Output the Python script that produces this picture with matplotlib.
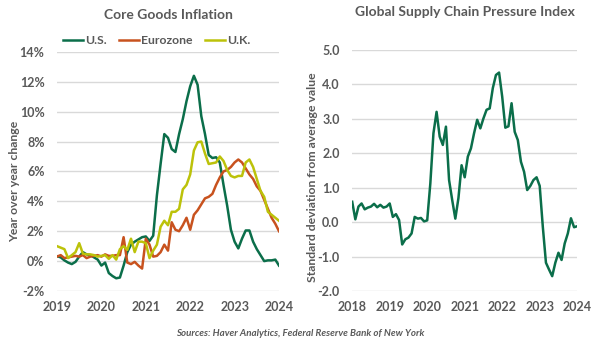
import matplotlib
import matplotlib.pyplot as plt
import numpy as np

matplotlib.use("Agg")

# Core goods inflation, year over year %, monthly Jan 2019 - Jan 2024
us = [0.33, 0.25, 0.05, -0.1, -0.2, -0.05, 0.3, 0.6, 0.45, 0.4, 0.25, 0.1,
      -0.3, -0.1, -0.8, -1.0, -1.15, -1.1, -0.3, 0.6, 1.1, 1.3, 1.45, 1.6,
      1.65, 1.35, 1.7, 4.4, 6.5, 8.5, 8.25, 7.5, 7.3, 8.5, 9.5, 10.7,
      11.7, 12.4, 11.8, 9.7, 8.5, 7.1, 6.9, 6.95, 6.6, 5.1, 3.7, 2.1,
      1.3, 0.85, 1.5, 2.05, 2.05, 1.3, 0.8, 0.4, 0.0, 0.05, 0.05, 0.1,
      -0.3]
eurozone = [0.3, 0.4, 0.2, 0.25, 0.3, 0.35, 0.3, 0.4, 0.2, 0.3, 0.35, 0.4,
            0.3, 0.45, 0.35, 0.35, 0.4, 0.4, 1.6, -0.1, -0.2, -0.05, -0.3, -0.5,
            1.5, 1.1, 0.3, 0.35, 0.6, 1.1, 0.7, 2.6, 2.1, 2.0, 2.4, 2.9,
            2.1, 3.1, 3.4, 3.8, 4.2, 4.3, 4.5, 5.1, 5.6, 6.0, 6.1, 6.3,
            6.6, 6.8, 6.6, 6.2, 5.8, 5.5, 5.0, 4.7, 4.1, 3.5, 2.9, 2.5,
            2.0]
uk = [1.0, 0.9, 0.8, 0.2, 0.4, 0.6, 1.2, 0.5, 0.45, 0.45, 0.4, 0.3,
      0.35, 0.4, 0.15, 0.4, 0.1, 0.8, 1.0, 0.75, 1.5, 0.6, 1.3, 1.3,
      1.2, 0.2, 0.7, 1.1, 2.3, 2.7, 2.4, 3.3, 3.3, 3.5, 4.8, 5.1,
      5.8, 7.4, 7.95, 8.0, 7.2, 6.5, 6.55, 6.6, 7.0, 6.7, 6.1, 5.7,
      5.6, 5.7, 5.7, 6.6, 6.8, 6.3, 5.5, 4.7, 4.3, 3.3, 3.1, 2.9,
      2.7]

# Global Supply Chain Pressure Index, monthly Jan 2018 - Jan 2024
gscpi = [0.59, 0.08, 0.45, 0.54, 0.37, 0.42, 0.45, 0.53, 0.43, 0.5, 0.42, 0.45,
         0.54, 0.15, 0.23, 0.06, -0.65, -0.5, -0.45, -0.33, 0.15, 0.1, 0.12, 0.02,
         0.05, 1.12, 2.58, 3.2, 2.48, 2.24, 2.77, 1.22, 0.64, 0.1, 0.7, 1.65,
         1.3, 1.9, 2.14, 2.58, 2.97, 2.72, 3.01, 3.26, 3.3, 3.89, 4.27, 4.34,
         3.64, 2.74, 2.78, 3.45, 2.62, 2.38, 1.75, 1.46, 0.93, 1.05, 1.22, 1.3,
         1.05, -0.14, -1.18, -1.38, -1.57, -1.18, -0.89, -1.1, -0.62, -0.33, 0.11, -0.15,
         -0.12]

left_years = ["2019", "2020", "2021", "2022", "2023", "2024"]
right_years = ["2018", "2019", "2020", "2021", "2022", "2023", "2024"]

GREEN = "#0B6E4A"
ORANGE = "#C8521E"
YELLOW = "#BCC20A"
TEXT = "#595959"
GRID = "#D9D9D9"

plt.rcParams["font.family"] = ["Lato", "DejaVu Sans"]

fig = plt.figure(figsize=(6.0, 3.46), dpi=100)
ax1 = fig.add_axes([0.095, 0.159, 0.37, 0.691])
ax2 = fig.add_axes([0.587, 0.159, 0.375, 0.697])


def style_axes(ax):
    for side in ["top", "right", "left", "bottom"]:
        ax.spines[side].set_visible(False)
    ax.grid(axis="y", color=GRID, linewidth=1.0)
    ax.set_axisbelow(True)
    ax.tick_params(axis="y", length=0, labelsize=9, colors=TEXT, pad=9)
    ax.tick_params(axis="x", length=0, labelsize=9, colors=TEXT, pad=7)
    for lbl in ax.get_xticklabels() + ax.get_yticklabels():
        lbl.set_fontweight("bold")


# left panel
months = np.arange(len(us))
ax1.plot(months, us, color=GREEN, lw=1.8, label="U.S.")
ax1.plot(months, eurozone, color=ORANGE, lw=1.8, label="Eurozone")
ax1.plot(months, uk, color=YELLOW, lw=1.8, label="U.K.")
ax1.set_xlim(0, 60)
ax1.set_ylim(-2, 14)
ax1.set_yticks(range(-2, 15, 2))
ax1.set_yticklabels([f"{v}%" for v in range(-2, 15, 2)])
ax1.set_xticks(range(0, 61, 12))
ax1.set_xticklabels(left_years)
style_axes(ax1)
ax1.set_ylabel("Year over year change", fontsize=8.8, color=TEXT,
               fontweight="bold")
ax1.yaxis.set_label_coords(-0.165, 0.46)
ax1.set_title("Core Goods Inflation", fontsize=10, color=TEXT,
              fontweight="bold", pad=24)
leg = ax1.legend(loc="lower center", bbox_to_anchor=(0.45, 1.0), ncol=3,
                 frameon=False, fontsize=8.8, handlelength=1.6,
                 handletextpad=0.2, columnspacing=1.0, borderaxespad=0.1)
for t in leg.get_texts():
    t.set_color(TEXT)
    t.set_fontweight("bold")

# right panel
months2 = np.arange(len(gscpi))
ax2.plot(months2, gscpi, color=GREEN, lw=1.8)
ax2.set_xlim(0, 72)
ax2.set_ylim(-2, 5)
ax2.set_yticks(np.arange(-2, 5.1, 1))
ax2.set_yticklabels([f"{v:.1f}" for v in np.arange(-2, 5.1, 1)])
ax2.set_xticks(range(0, 73, 12))
ax2.set_xticklabels(right_years)
style_axes(ax2)
ax2.set_ylabel("Standard deviation from average value", fontsize=8.8,
               color=TEXT, fontweight="bold")
ax2.yaxis.set_label_coords(-0.15, 0.47)
ax2.set_title("Global Supply Chain Pressure Index", fontsize=10, color=TEXT,
              fontweight="bold", pad=24)

fig.text(0.5, 0.035, "Sources: Haver Analytics, Federal Reserve Bank of New York",
         ha="center", va="center", fontsize=7, style="italic", color=TEXT,
         fontweight="bold")

fig.savefig("out.png", dpi=100)
